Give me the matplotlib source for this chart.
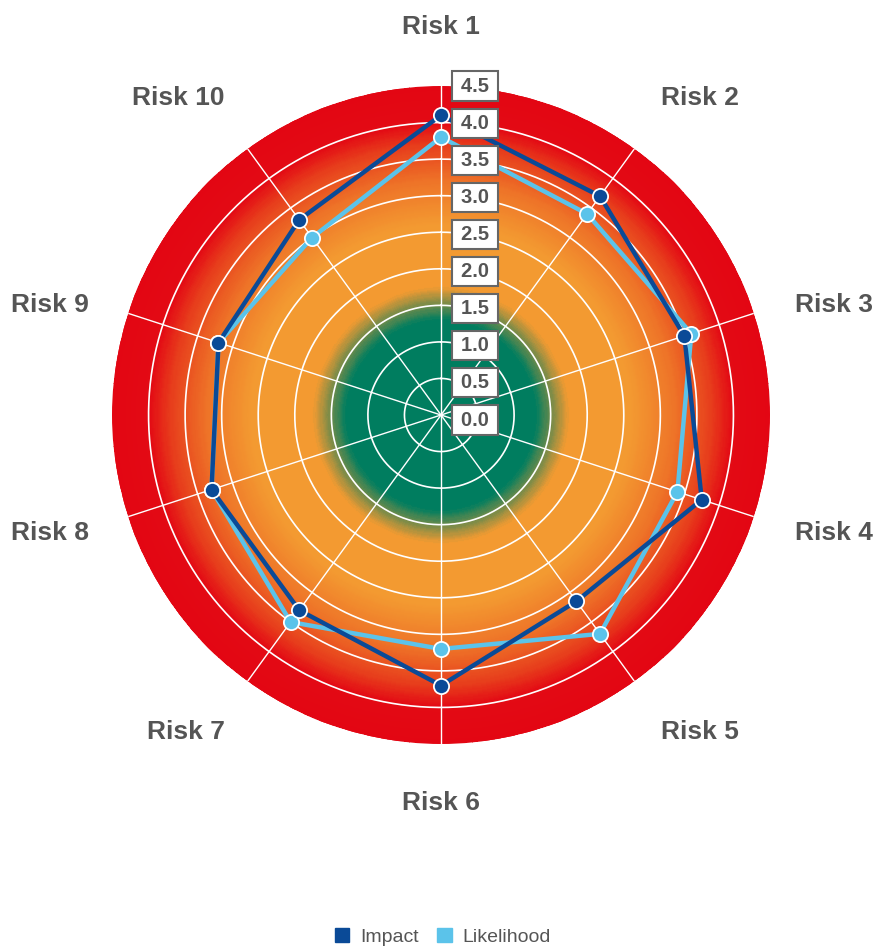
import numpy as np
import matplotlib
matplotlib.use("Agg")
import matplotlib.pyplot as plt
from matplotlib.colors import LinearSegmentedColormap
from matplotlib.patches import Patch

plt.rcParams["font.family"] = ["Liberation Sans", "DejaVu Sans"]

# chart data
risks = ["Risk 1", "Risk 2", "Risk 3", "Risk 4", "Risk 5",
         "Risk 6", "Risk 7", "Risk 8", "Risk 9", "Risk 10"]
impact = [4.1, 3.7, 3.5, 3.75, 3.15, 3.7, 3.3, 3.3, 3.2, 3.3]
likelihood = [3.8, 3.4, 3.6, 3.4, 3.7, 3.2, 3.5, 3.3, 3.2, 3.0]
ticks = [0.0, 0.5, 1.0, 1.5, 2.0, 2.5, 3.0, 3.5, 4.0, 4.5]
r_max = 4.5

# where the category labels sit, pixels from the centre (x right, y up)
label_offsets = [(0, 388), (259, 317), (393, 110), (393, -118), (259, -317),
                 (0, -388), (-255, -317), (-391, -118), (-391, 110), (-263, 317)]

impact_color = "#0a4a97"
likelihood_color = "#5bc3ea"
label_color = "#555555"

# background gradient stops (value, colour)
stops = [(0.0, "#007d5f"), (1.3, "#007d5f"), (1.75, "#f39a31"),
         (2.6, "#f39a31"), (3.2, "#ee7428"), (3.7, "#e73e1c"),
         (4.0, "#e30a14"), (4.5, "#e30613")]
cmap = LinearSegmentedColormap.from_list(
    "risk", [(v / r_max, c) for v, c in stops])

fig = plt.figure(figsize=(8.77, 9.47), dpi=100)
ax = fig.add_axes([112 / 877, 203 / 947, 658 / 877, 658 / 947], projection="polar")
ax.set_theta_zero_location("N")
ax.set_theta_direction(-1)
ax.set_ylim(0, r_max)
ax.set_xticks([])
ax.set_yticks([])
ax.grid(False)
ax.spines["polar"].set_visible(False)

# radial gradient
tg = np.linspace(0, 2 * np.pi, 361)
rg = np.linspace(0, r_max, 301)
T, R = np.meshgrid(tg, rg)
ax.pcolormesh(T, R, R, cmap=cmap, vmin=0, vmax=r_max, shading="auto", zorder=0)

# grid circles and spokes
theta = np.linspace(0, 2 * np.pi, len(risks), endpoint=False)
circ = np.linspace(0, 2 * np.pi, 400)
for v in ticks[1:-1]:
    ax.plot(circ, np.full_like(circ, v), color="white", lw=1.2, zorder=1)
for t in theta:
    ax.plot([t, t], [0, r_max], color="white", lw=1.0, zorder=1)

# series
closed = np.append(theta, theta[0])
ax.plot(closed, likelihood + likelihood[:1], color=likelihood_color, lw=3.2, zorder=3)
ax.scatter(theta, likelihood, s=120, color=likelihood_color, edgecolor="white",
           linewidth=1.3, zorder=4)
ax.plot(closed, impact + impact[:1], color=impact_color, lw=3.2, zorder=5)
ax.scatter(theta, impact, s=120, color=impact_color, edgecolor="white",
           linewidth=1.3, zorder=6)

# value labels in boxes along the first spoke
for v in ticks:
    ax.annotate(f"\u2009{v:.1f}\u2009", xy=(0, v), xytext=(34, -(r_max - v) / r_max * 5),
                textcoords="offset pixels", ha="center", va="center",
                fontsize=14.5, fontweight="bold", color=label_color,
                bbox=dict(boxstyle="square,pad=0.25", fc="white", ec="#666666", lw=1.5),
                zorder=7, annotation_clip=False)

# category labels
for name, (dx, dy) in zip(risks, label_offsets):
    ax.annotate(name, xy=(0, 0), xytext=(dx, dy), textcoords="offset pixels",
                ha="center", va="center", fontsize=19, fontweight="bold",
                color=label_color, annotation_clip=False)

handles = [Patch(color=impact_color, label="Impact"),
           Patch(color=likelihood_color, label="Likelihood")]
fig.legend(handles=handles, loc="center", bbox_to_anchor=(0.505, 10 / 947), ncol=2,
           frameon=False, fontsize=14, labelcolor=label_color, handlelength=0.75,
           handleheight=0.75, handletextpad=0.55, columnspacing=0.95)

fig.savefig("out.png", dpi=100)
